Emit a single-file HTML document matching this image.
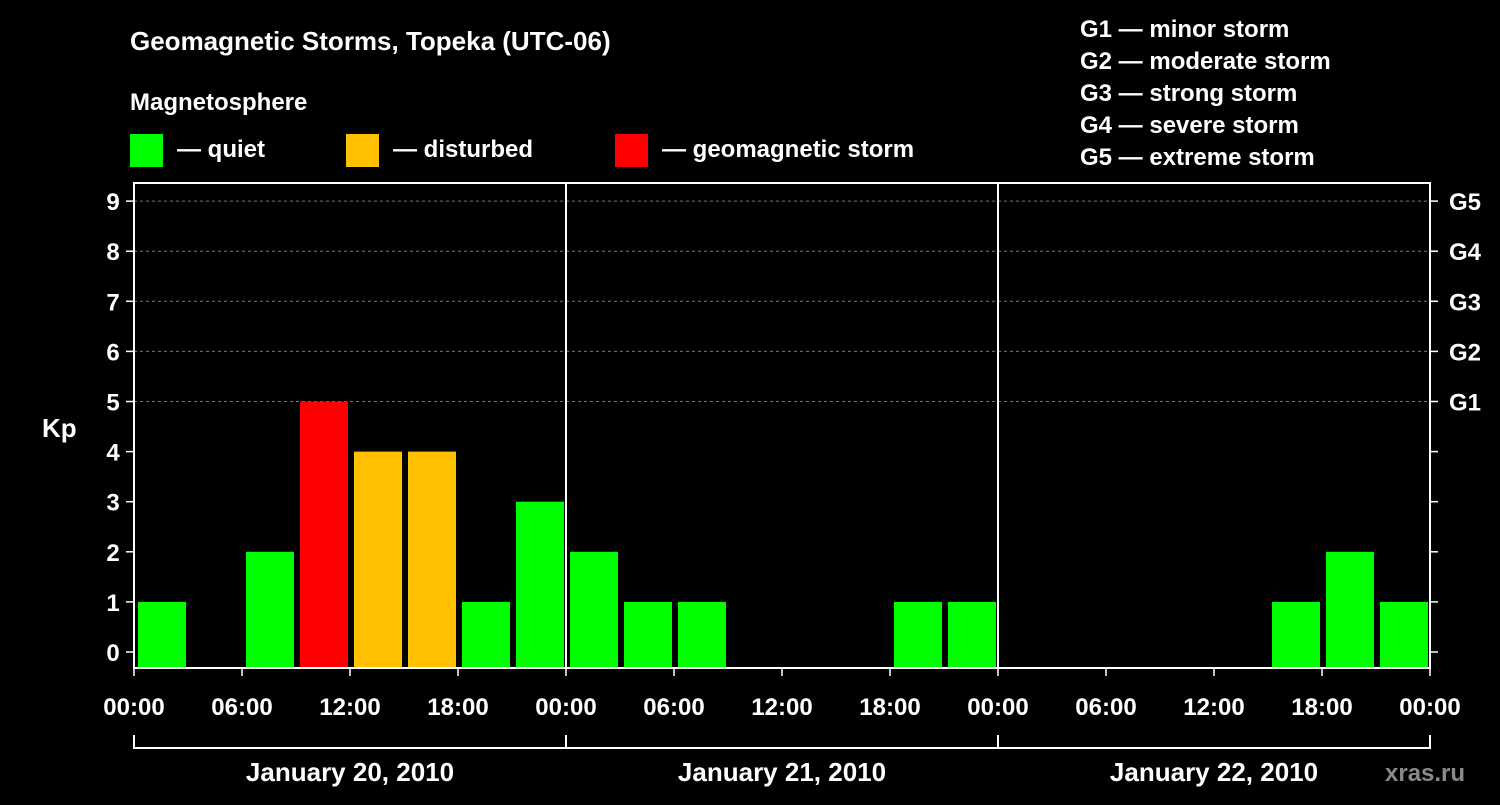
<!DOCTYPE html>
<html><head><meta charset="utf-8"><style>
body{margin:0;background:#000;width:1500px;height:800px;overflow:hidden}
svg text{font-family:"Liberation Sans",sans-serif;font-weight:bold;fill:#fff}
</style></head><body>
<svg id="chart" width="1500" height="800">
<text x="130" y="50" font-size="26">Geomagnetic Storms, Topeka (UTC-06)</text>
<text x="130" y="110" font-size="24">Magnetosphere</text>
<g><rect x="130" y="134" width="33" height="33" fill="#00ff00"/><text x="177" y="157" font-size="24">— quiet</text></g>
<g><rect x="346" y="134" width="33" height="33" fill="#ffc000"/><text x="393" y="157" font-size="24">— disturbed</text></g>
<g><rect x="615" y="134" width="33" height="33" fill="#ff0000"/><text x="662" y="157" font-size="24">— geomagnetic storm</text></g>
<g font-size="24">
<text x="1080" y="37">G1 — minor storm</text>
<text x="1080" y="69">G2 — moderate storm</text>
<text x="1080" y="101">G3 — strong storm</text>
<text x="1080" y="133">G4 — severe storm</text>
<text x="1080" y="165">G5 — extreme storm</text>
</g>
<text x="42" y="437" font-size="26">Kp</text>
<text x="1385" y="781" font-size="24" fill="#888" style="fill:#8a8a8a">xras.ru</text>
<g id="plot"></g>
</svg>
<script>
const kpValues=[1,0,2,5,4,4,1,3, 2,1,1,0,0,0,1,1, 0,0,0,0,0,1,2,1];
const yTicks=[0,1,2,3,4,5,6,7,8,9];
const gLabels=["G1","G2","G3","G4","G5"];
const xTickLabels=["00:00","06:00","12:00","18:00","00:00","06:00","12:00","18:00","00:00","06:00","12:00","18:00","00:00"];
const dayLabels=["January 20, 2010","January 21, 2010","January 22, 2010"];
const X0=134,X1=1430,YB=668,TOP=183;
const slotW=(X1-X0)/kpValues.length;
const y=v=>652-v*50.1;
const x=i=>X0+i*slotW;
const NS="http://www.w3.org/2000/svg";
const g=document.getElementById('plot');
function mk(t,a,txt){const e=document.createElementNS(NS,t);for(const k in a)e.setAttribute(k,a[k]);if(txt!==undefined)e.textContent=txt;g.appendChild(e);return e;}
yTicks.forEach(v=>{
 if(v>=5){const l=mk('line',{x1:X0,x2:X1,y1:y(v),y2:y(v),stroke:'#777','stroke-dasharray':'3,3'});
 
 }
 const t=mk('line',{x1:X0-8,x2:X0,y1:y(v),y2:y(v),stroke:'#fff','stroke-width':1.5});
 
 
 const t2=mk('line',{x1:X1,x2:X1+8,y1:y(v),y2:y(v),stroke:'#fff','stroke-width':1.5});
 
 
 const lb=mk('text',{x:113,y:y(v)+9,'font-size':24,'text-anchor':'middle'},String(v));
 
 
});
gLabels.forEach((s,i)=>{
 const lb=mk('text',{x:1449,y:y(5+i)+9,'font-size':24},s);
 
 
});
kpValues.forEach((v,i)=>{
 if(v<=0)return;
 const c=v>=5?'#ff0000':v>=4?'#ffc000':'#00ff00';
 const r=mk('rect',{x:x(i)+4,y:y(v),width:slotW-6,height:YB-y(v),fill:c});
 
 
});
const fr=mk('rect',{x:X0,y:TOP,width:X1-X0,height:YB-TOP,fill:'none',stroke:'#fff','stroke-width':2});


for(let d=1;d<dayLabels.length;d++){
 const l=mk('line',{x1:x(d*8),x2:x(d*8),y1:TOP,y2:YB,stroke:'#fff','stroke-width':2});
 
 
}
xTickLabels.forEach((s,i)=>{
 const xx=x(i*2);
 const t=mk('line',{x1:xx,x2:xx,y1:YB,y2:YB+8,stroke:'#fff','stroke-width':1.5});
 
 
 const lb=mk('text',{x:xx,y:715,'font-size':24,'text-anchor':'middle'},s);
 
 
});
const br=mk('line',{x1:X0,x2:X1,y1:748,y2:748,stroke:'#fff','stroke-width':2});


for(let d=0;d<=dayLabels.length;d++){
 const t=mk('line',{x1:x(d*8),x2:x(d*8),y1:735,y2:749,stroke:'#fff','stroke-width':2});
 
 
}
dayLabels.forEach((s,d)=>{
 const lb=mk('text',{x:x(d*8+4),y:781,'font-size':26,'text-anchor':'middle'},s);
 
 
});
</script>
</body></html>
